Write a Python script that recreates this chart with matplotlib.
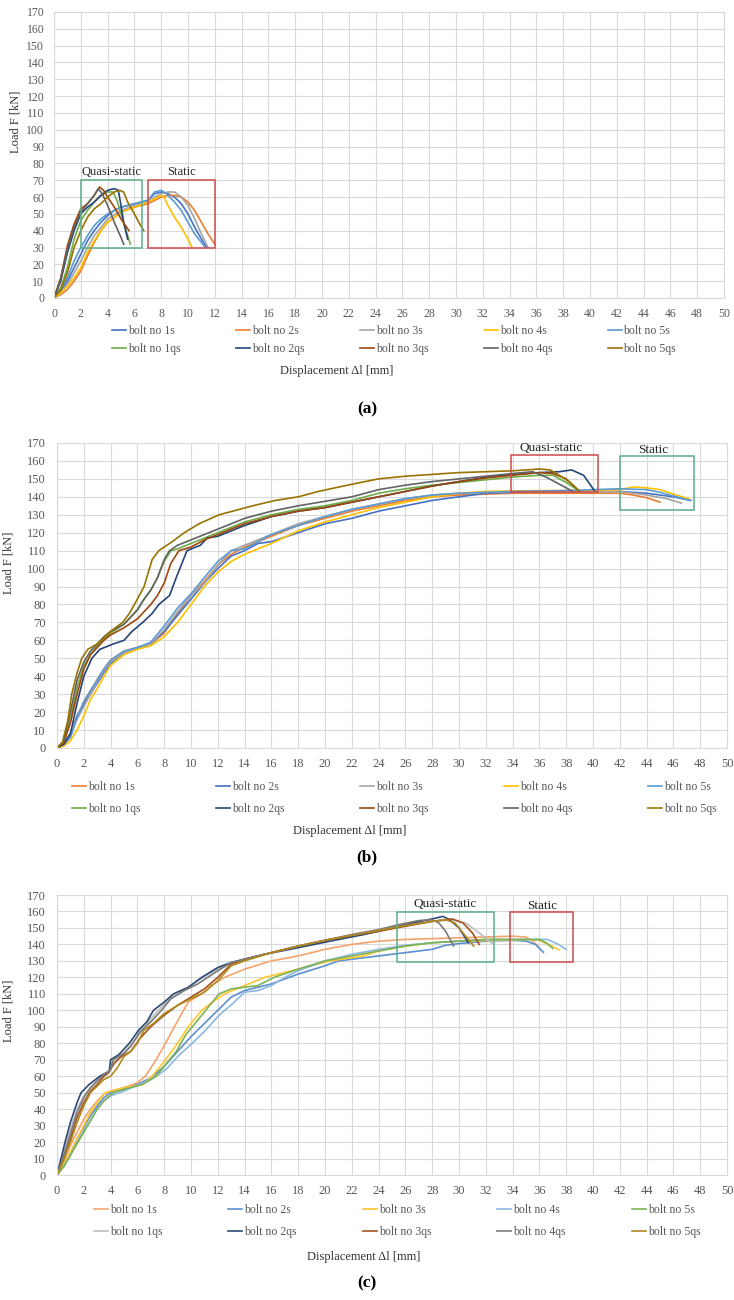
#!/usr/bin/env python3
"""Load-displacement curves of bolts, static vs quasi-static, three panels."""

import matplotlib

matplotlib.use("Agg")
import matplotlib.pyplot as plt
import numpy as np
from matplotlib.patches import Rectangle

plt.rcParams["font.family"] = ["Liberation Serif", "DejaVu Serif"]

W, H = 734, 1300

LABELS = ["bolt no 1s", "bolt no 2s", "bolt no 3s", "bolt no 4s", "bolt no 5s",
          "bolt no 1qs", "bolt no 2qs", "bolt no 3qs", "bolt no 4qs", "bolt no 5qs"]
X_TICKS = list(range(0, 51, 2))
Y_TICKS = list(range(0, 171, 10))

# ---------------- panel (a) ----------------
A_1S = [(0, 0), (0.5, 4), (1, 10), (1.5, 18), (2, 26), (2.5, 34), (3, 40), (3.5, 45), (4, 49),
        (4.5, 52), (5, 54), (6, 56), (7, 58), (7.5, 62), (8, 63), (8.5, 62), (9, 60), (9.5, 56),
        (10, 50), (10.5, 42), (11, 35), (11.4, 30)]
A_2S = [(0, 0), (0.5, 2), (1, 5), (1.5, 10), (2, 16), (2.5, 25), (3, 33), (3.5, 40), (4, 45),
        (5, 51), (6, 54), (7, 56), (7.5, 58), (8, 60), (8.5, 61), (9, 61), (9.5, 60), (10, 57),
        (10.5, 52), (11, 45), (11.5, 38), (12, 32)]
A_3S = [(0, 0), (0.5, 3), (1, 8), (1.5, 15), (2, 22), (2.5, 30), (3, 37), (3.5, 42), (4, 47),
        (5, 52), (6, 55), (7, 57), (7.5, 60), (8, 62), (8.5, 63), (9, 63), (9.5, 60), (10, 55),
        (10.5, 47), (11, 38), (11.5, 30)]
A_4S = [(0, 0), (0.5, 3), (1, 7), (1.5, 12), (2, 18), (2.5, 27), (3, 34), (3.5, 40), (4, 45),
        (5, 51), (6, 54), (7, 57), (7.5, 59), (8, 61), (8.2, 60), (8.5, 55), (9, 48), (9.5, 42),
        (10, 35), (10.3, 30)]
A_5S = [(0, 0), (0.5, 5), (1, 12), (1.5, 22), (2, 30), (2.5, 37), (3, 43), (3.5, 47), (4, 50),
        (5, 54), (6, 56), (7, 58), (7.5, 63), (8, 64), (8.4, 62), (9, 57), (9.5, 52), (10, 45),
        (10.5, 38), (11, 33), (11.3, 30)]
A_1QS = [(0, 0), (0.5, 6), (1, 18), (1.5, 35), (2, 46), (2.5, 52), (3, 57), (3.5, 61), (4, 63),
         (4.4, 63), (4.7, 58), (5, 50), (5.3, 42), (5.7, 32)]
A_2QS = [(0, 0), (0.5, 10), (1, 27), (1.5, 40), (2, 50), (2.5, 54), (3, 57), (3.5, 61), (4, 64),
         (4.5, 65), (4.8, 64), (5, 55), (5.2, 45), (5.5, 35)]
A_3QS = [(0, 0), (0.5, 12), (1, 31), (1.5, 44), (2, 53), (2.5, 56), (3, 61), (3.4, 66),
         (3.7, 64), (4, 60), (4.5, 54), (5, 47), (5.6, 40)]
A_4QS = [(0, 0), (0.5, 11), (1, 29), (1.5, 42), (2, 51), (2.5, 56), (3, 61), (3.3, 65),
         (3.6, 62), (4, 55), (4.5, 45), (5, 36), (5.2, 32)]
A_5QS = [(0, 0), (0.5, 5), (1, 15), (1.5, 30), (2, 40), (2.5, 48), (3, 53), (3.5, 56), (4, 60),
         (4.5, 63), (4.9, 64), (5.2, 63), (5.5, 57), (6, 50), (6.4, 44), (6.7, 40)]
A_CURVES = [A_1S, A_2S, A_3S, A_4S, A_5S, A_1QS, A_2QS, A_3QS, A_4QS, A_5QS]
A_QS_BOX = (2.0, 30, 6.6, 70)
A_S_BOX = (7.0, 30, 12.0, 70)

# ---------------- panel (b) ----------------
B_1S = [(0, 0), (0.5, 2), (1, 8), (1.5, 18), (2, 25), (2.5, 32), (3, 38), (3.5, 44), (4, 49),
        (5, 54), (6, 56), (7, 58), (8, 64), (9, 75), (10, 85), (11, 93), (12, 102), (13, 108),
        (14, 112), (16, 118), (18, 124), (20, 128), (22, 132), (24, 135), (26, 138), (28, 140),
        (30, 141), (34, 142), (38, 142), (42, 142), (43, 141), (44, 139.5), (45, 137)]
B_2S = [(0, 0), (0.5, 2), (1, 6), (1.5, 18), (2, 24), (2.5, 30), (3, 36), (3.5, 42), (4, 47),
        (5, 53), (6, 56), (7, 58), (8, 65), (9, 74), (10, 83), (11, 92), (12, 100), (13, 107),
        (14, 110), (15, 114), (16, 115), (18, 120), (20, 125), (22, 128), (24, 132), (26, 135),
        (28, 138), (30, 140), (32, 142), (36, 143), (40, 143), (42, 143), (44, 142), (46, 140),
        (47.3, 138)]
B_3S = [(0, 0), (0.5, 3), (1, 8), (1.5, 16), (2, 23), (2.5, 30), (3, 37), (3.5, 43), (4, 48),
        (5, 53), (6, 56), (7, 58), (8, 66), (9, 76), (10, 85), (11, 92), (12, 102), (13, 110),
        (14, 113), (16, 119), (18, 125), (20, 129), (22, 133), (24, 136), (26, 139), (28, 141),
        (30, 142), (34, 143), (38, 143), (42, 143), (44, 141), (45.5, 139), (46.6, 136.5)]
B_4S = [(0, 0), (0.5, 1), (1, 4), (1.5, 10), (2, 18), (2.5, 27), (3, 33), (3.5, 40), (4, 46),
        (5, 52), (6, 55), (7, 57), (8, 62), (9, 70), (10, 80), (11, 90), (12, 98), (13, 104),
        (14, 108), (16, 114), (18, 121), (20, 126), (22, 130), (24, 134), (26, 137), (28, 140),
        (30, 142), (32, 143), (36, 143.5), (40, 143.5), (42, 144), (43, 145.5), (44, 145),
        (45, 144), (46, 141.5), (47.1, 139)]
B_5S = [(0, 0), (0.5, 2), (1, 6), (1.5, 17), (2, 26), (2.5, 32), (3, 38), (3.5, 44), (4, 49),
        (5, 54), (6, 56), (7, 59), (8, 68), (9, 78), (10, 86), (11, 95), (12, 104), (13, 110),
        (14, 111), (15, 115), (16, 119), (18, 124), (20, 129), (22, 133), (24, 136), (26, 139),
        (28, 141), (30, 142), (34, 143), (38, 143.5), (42, 144.5), (44, 144), (45, 142.5),
        (46, 140.5), (47.2, 138)]
B_1QS = [(0, 0), (0.5, 3), (1, 16), (1.5, 34), (2, 46), (2.5, 52), (3, 57), (3.5, 61), (4, 64),
         (5, 69), (5.5, 73), (6, 77), (6.5, 83), (7, 88), (7.5, 95), (8, 104), (8.5, 110),
         (9, 111), (10, 114), (11, 117), (12, 120), (13, 123), (14, 126), (16, 130), (18, 133),
         (20, 135), (22, 138), (24, 142), (26, 144.5), (28, 146.5), (30, 148), (32, 149.5),
         (34, 151), (36, 152), (37, 152), (38, 148), (38.8, 144)]
B_2QS = [(0, 0), (0.5, 2), (1, 8), (1.5, 25), (2, 40), (2.6, 50), (3.2, 55), (4.2, 58),
         (5, 60), (5.6, 65), (6.4, 70), (7.1, 75), (7.6, 80), (8.4, 85), (8.9, 95), (9.7, 110),
         (10.7, 113), (11.2, 117), (12, 118), (13, 121), (14, 124), (16, 129), (18, 132),
         (20, 134), (22, 137), (24, 140), (26, 143), (28, 146), (30, 148.5), (32, 151),
         (34, 152.5), (36, 153.5), (37.5, 154), (38.4, 155), (39.3, 152), (40.1, 143.5)]
B_3QS = [(0, 0), (0.5, 3), (1, 14), (1.5, 30), (2, 44), (2.5, 52), (3, 56), (3.5, 60), (4, 63),
         (5, 67), (6, 72), (7, 80), (7.5, 85), (8, 92), (8.5, 103), (9.1, 110), (10, 112),
         (11, 116), (12, 119), (13, 122), (14, 125), (16, 129), (18, 132), (20, 134), (22, 137),
         (24, 140), (26, 143), (28, 146), (30, 148.5), (32, 150.5), (34, 152), (36, 153.5),
         (37, 153), (38, 150), (39, 143)]
B_4QS = [(0, 0), (0.5, 4), (1, 20), (1.5, 38), (2, 48), (2.5, 54), (3, 58), (3.5, 62), (4, 65),
         (5, 69), (5.5, 73), (6, 77), (6.5, 83), (7, 88), (7.5, 95), (8, 105), (8.4, 110),
         (9, 113), (10, 116), (11, 119), (12, 122), (13, 125), (14, 128), (16, 132), (18, 135),
         (20, 137.5), (22, 140), (24, 144), (26, 146.5), (28, 148.5), (30, 150), (32, 151.5),
         (34, 153), (35.5, 154), (36.5, 151), (37.5, 147), (38.5, 143)]
B_5QS = [(0, 0), (0.4, 3), (0.8, 15), (1.1, 30), (1.5, 42), (1.85, 50), (2.3, 55), (3, 58),
         (4, 65), (4.9, 70), (5.4, 75), (6, 83), (6.5, 90), (7.1, 105), (7.6, 110), (8.6, 115),
         (9.5, 120), (10.6, 125), (12.1, 130), (14.6, 135), (16.3, 138), (18, 140), (19.5, 143),
         (22, 147), (24, 150), (26, 151.5), (28, 152.5), (30, 153.5), (32, 154), (34, 154.5),
         (36, 155.5), (36.8, 155), (37.5, 152), (38.3, 148), (39, 143)]
B_CURVES = [B_1S, B_2S, B_3S, B_4S, B_5S, B_1QS, B_2QS, B_3QS, B_4QS, B_5QS]
B_QS_BOX = (33.9, 142.7, 40.4, 163.1)
B_S_BOX = (42.0, 132.5, 47.5, 163.0)

# ---------------- panel (c) ----------------
C_1S = [(0, 0), (0.5, 8), (1, 18), (1.5, 26), (2, 34), (2.5, 40), (3, 45), (3.5, 49), (4, 51),
        (5, 53), (6, 56), (6.6, 60), (7.4, 70), (8.1, 80), (9.1, 95), (9.8, 105), (10.8, 110),
        (11.5, 115), (12.5, 120), (14, 125), (16, 130), (18, 133), (20, 137), (22, 140),
        (24, 142), (26, 143), (28, 143.5), (30, 144), (32, 144.5), (34, 145), (35, 144.5),
        (35.5, 142), (36, 138)]
C_2S = [(0, 0), (0.5, 6), (1, 13), (1.5, 22), (2, 29), (2.5, 36), (3, 42), (3.5, 47), (4, 50),
        (5, 52), (6, 55), (7, 59), (8, 66), (9, 75), (10, 84), (11, 92), (12, 100), (13, 108),
        (14, 112), (16, 116), (18, 122), (20, 127), (21, 130), (22, 131), (24, 133), (26, 135),
        (28, 137), (29, 139.5), (30, 140.5), (32, 142), (34, 142.5), (35, 142), (35.7, 140),
        (36.3, 135.2)]
C_3S = [(0, 0), (0.5, 6), (1, 14), (1.5, 22), (2, 30), (2.5, 38), (3, 44), (3.6, 50), (5, 53),
        (6.4, 55), (7.1, 60), (8.1, 70), (9, 80), (9.8, 90), (10.8, 100), (11.6, 105),
        (12.5, 110), (14, 115), (15.5, 120), (18, 125), (20.4, 130), (22.9, 133), (24, 136),
        (26, 139), (28, 141), (30, 142), (33, 142.5), (35, 143), (36, 142.5), (36.8, 139.5),
        (37.5, 136.6)]
C_4S = [(0, 0), (0.5, 5), (1, 12), (1.5, 20), (2, 27), (2.5, 33), (3, 40), (3.5, 45), (4, 48),
        (5, 51), (6, 54.5), (7, 58), (7.5, 60.5), (8.2, 64.6), (9.1, 72.7), (10.1, 80),
        (11.1, 88), (12.1, 97), (13.1, 104), (14, 111), (15, 112), (16, 115), (17, 120),
        (18, 124), (20, 130), (22, 134), (24, 137), (26, 139.5), (28, 141), (30, 142),
        (32, 143), (36.6, 143), (37.3, 140.5), (38, 137)]
C_5S = [(0, 0), (0.5, 5), (1, 12), (1.5, 19), (2, 26), (2.5, 33), (3, 40), (3.5, 45), (4.2, 50),
        (5, 52), (6.4, 55), (7.4, 60), (7.9, 65), (8.9, 75), (9.6, 85), (10.6, 95), (11.1, 100),
        (12.1, 110), (13, 113), (15, 115), (16.2, 120), (18, 125), (20, 130), (22, 133),
        (24, 136), (26, 139), (28, 141), (30, 142), (32, 143), (36, 143), (36.5, 141),
        (37, 137.6)]
C_1QS = [(0, 0), (0.3, 8), (0.6, 18), (1, 28), (1.5, 40), (2, 48), (2.5, 53), (3.2, 58),
         (3.9, 62), (4.1, 68), (4.8, 72), (5.5, 79), (6.2, 86), (7, 95), (7.8, 102), (8.6, 108),
         (9.5, 112), (10.5, 118), (12, 125), (13.5, 130), (16, 135), (18, 139), (20, 142),
         (22, 145), (24, 148), (26, 151.5), (28, 154), (29.5, 155), (30.5, 153), (31.5, 147),
         (32.5, 140.5)]
C_2QS = [(0, 0), (0.3, 10), (0.6, 20), (1, 32), (1.5, 44), (1.8, 50), (2.4, 55), (3.2, 60),
         (3.9, 63), (4.0, 70), (4.6, 73), (5.4, 80), (6.1, 88), (6.7, 93), (7.2, 100), (8, 105),
         (8.7, 110), (9.8, 114), (10.8, 120), (12, 126), (13, 129), (15.5, 134), (18, 138),
         (20.4, 142), (22.9, 146), (24, 148), (26, 152), (28, 155.5), (28.8, 157), (29.3, 155),
         (30, 150), (30.7, 141)]
C_3QS = [(0, 0), (0.5, 10), (1, 22), (1.5, 35), (2, 44), (2.5, 51), (3, 55), (3.5, 60),
         (3.8, 62), (4.3, 68), (4.8, 72), (5.5, 75), (6.2, 83), (7, 90), (8, 97), (9, 103),
         (10, 108), (11, 113), (12, 120), (13, 128), (14, 131), (16, 135), (18, 139),
         (20, 142.5), (22, 145.5), (24, 148), (26, 151), (28, 154), (29.5, 155.5), (30.3, 153),
         (31, 147), (31.5, 140)]
C_4QS = [(0, 0), (0.5, 12), (1, 25), (1.5, 38), (2, 47), (2.5, 53), (3.2, 59), (4, 64),
         (4.2, 70), (5, 74), (5.5, 78), (6.2, 87), (7, 93), (7.8, 100), (8.5, 107), (9.5, 112),
         (10.5, 116), (12, 124), (13, 129), (15, 133), (18, 139), (20, 142.5), (22, 146),
         (24, 149), (25.5, 152), (27, 154.5), (28, 155), (28.5, 153), (29, 148), (29.6, 139)]
C_5QS = [(0, 0), (0.5, 9), (1, 20), (1.5, 32), (2, 42), (2.5, 50), (3, 54), (3.5, 58), (4, 60),
         (4.5, 65), (5, 72), (5.5, 75), (6, 80), (6.5, 88), (7.2, 92), (8, 98), (9, 103),
         (10, 107), (11, 111), (12, 118), (13, 127), (14, 130), (16, 135), (18, 139),
         (20, 142.5), (22, 145.5), (24, 148.5), (26, 151.5), (28, 154), (29, 155), (29.7, 153),
         (30.3, 147), (31.1, 139)]
C_CURVES = [C_1S, C_2S, C_3S, C_4S, C_5S, C_1QS, C_2QS, C_3QS, C_4QS, C_5QS]
C_QS_BOX = (25.4, 129.5, 32.6, 159.9)
C_S_BOX = (33.8, 129.5, 38.5, 159.9)

# colours per panel (Excel palettes)
A_COLORS = ["#4472C4", "#ED7D31", "#A5A5A5", "#FFC000", "#5B9BD5",
            "#70AD47", "#264478", "#9E480E", "#636363", "#997300"]
B_COLORS = ["#ED7D31", "#4472C4", "#A5A5A5", "#FFC000", "#5B9BD5",
            "#70AD47", "#264478", "#9E480E", "#636363", "#997300"]
C_COLORS = ["#F4A36C", "#5B8FCF", "#FFC62E", "#8CB9E3", "#7DB356",
            "#BDBDBD", "#2E4A74", "#A4541F", "#7A7A7A", "#B08A1E"]
GREEN_BOX = "#5DAE8B"
RED_BOX = "#CC4C4C"
GRID = "#D9D9D9"
TICK_COLOR = "#595959"


def fx(px):
    return px / W


def fy(py):
    return 1 - py / H


def draw_panel(fig, spec):
    left, top, right, bottom = spec["box"]
    ax = fig.add_axes([fx(left), fy(bottom), fx(right) - fx(left), fy(top) - fy(bottom)])
    handles = []
    for pts, color, label in zip(spec["curves"], spec["colors"], LABELS):
        arr = np.array(pts, dtype=float)
        (line,) = ax.plot(arr[:, 0], arr[:, 1], color=color, lw=1.2, label=label,
                          solid_joinstyle="round")
        handles.append(line)

    for (x0, y0, x1, y1), color in ((spec["qs_box"], spec["qs_color"]),
                                    (spec["s_box"], spec["s_color"])):
        ax.add_patch(Rectangle((x0, y0), x1 - x0, y1 - y0, fill=False,
                               edgecolor=color, lw=1.1, zorder=5))
    qx, qy = spec["qs_text"]
    sx, sy = spec["s_text"]
    ax.text(qx, qy, "Quasi-static", ha="center", va="center", fontsize=spec["fs"] + 0.5,
            color="#262626")
    ax.text(sx, sy, "Static", ha="center", va="center", fontsize=spec["fs"] + 0.5,
            color="#262626")

    ax.set_xlim(0, 50)
    ax.set_ylim(0, 170)
    ax.set_xticks(X_TICKS)
    ax.set_yticks(Y_TICKS)
    ax.grid(True, color=GRID, lw=0.8)
    ax.set_axisbelow(True)
    for sp in ax.spines.values():
        sp.set_color(GRID)
        sp.set_linewidth(0.8)
    ax.tick_params(length=0, labelsize=spec["fs"], colors=TICK_COLOR)
    ax.tick_params(axis="x", pad=spec["xpad"])
    ax.tick_params(axis="y", pad=spec["ypad"])

    # Excel legend fills rows first; matplotlib fills columns first
    order = [0, 5, 1, 6, 2, 7, 3, 8, 4, 9]
    lcx, lcy = spec["legend_pos"]
    ax.legend([handles[i] for i in order], [LABELS[i] for i in order], ncol=5,
              loc="center", bbox_to_anchor=(fx(lcx), fy(lcy)),
              bbox_transform=fig.transFigure, frameon=False, fontsize=8.5,
              handlelength=1.2, handletextpad=0.15, columnspacing=spec["colspace"],
              labelspacing=spec["rowspace"], labelcolor=TICK_COLOR, borderpad=0)

    ylx, yly = spec["ylabel_pos"]
    fig.text(fx(ylx), fy(yly), "Load F [kN]", rotation=90, ha="center", va="center",
             fontsize=9, color="#333333")
    xlx, xly = spec["xlabel_pos"]
    fig.text(fx(xlx), fy(xly), "Displacement Δl [mm]", ha="center", va="center",
             fontsize=9, color="#333333")
    tx, ty = spec["tag_pos"]
    fig.text(fx(tx), fy(ty), spec["tag"], ha="center", va="center", fontsize=12.5,
             fontweight="bold", color="black")


PANELS = [
    dict(box=(54, 12, 724, 298), curves=A_CURVES, colors=A_COLORS,
         qs_box=A_QS_BOX, s_box=A_S_BOX, qs_color=GREEN_BOX, s_color=RED_BOX,
         qs_text=(4.3, 75), s_text=(9.5, 75), fs=8.5, xpad=7, ypad=7,
         legend_pos=(394, 340), colspace=4.7, rowspace=0.55,
         ylabel_pos=(16, 122), xlabel_pos=(337, 371), tag="(a)", tag_pos=(367, 409)),
    dict(box=(57, 443, 727, 748), curves=B_CURVES, colors=B_COLORS,
         qs_box=B_QS_BOX, s_box=B_S_BOX, qs_color=RED_BOX, s_color=GREEN_BOX,
         qs_text=(36.9, 167), s_text=(44.5, 166), fs=9, xpad=7, ypad=8,
         legend_pos=(394, 798), colspace=6.4, rowspace=0.8,
         ylabel_pos=(9, 563), xlabel_pos=(350, 831), tag="(b)", tag_pos=(367, 857)),
    dict(box=(57, 895, 727, 1175), curves=C_CURVES, colors=C_COLORS,
         qs_box=C_QS_BOX, s_box=C_S_BOX, qs_color=GREEN_BOX, s_color=RED_BOX,
         qs_text=(29, 164.5), s_text=(36.2, 163.5), fs=9, xpad=7, ypad=8,
         legend_pos=(397, 1221), colspace=5.6, rowspace=0.8,
         ylabel_pos=(9, 1011), xlabel_pos=(364, 1257), tag="(c)", tag_pos=(367, 1283)),
]


def main() -> None:
    fig = plt.figure(figsize=(W / 100, H / 100), dpi=100)
    fig.patch.set_facecolor("white")
    for spec in PANELS:
        draw_panel(fig, spec)
    fig.savefig("out.png", dpi=100, facecolor="white")
    plt.close(fig)


if __name__ == "__main__":
    main()
